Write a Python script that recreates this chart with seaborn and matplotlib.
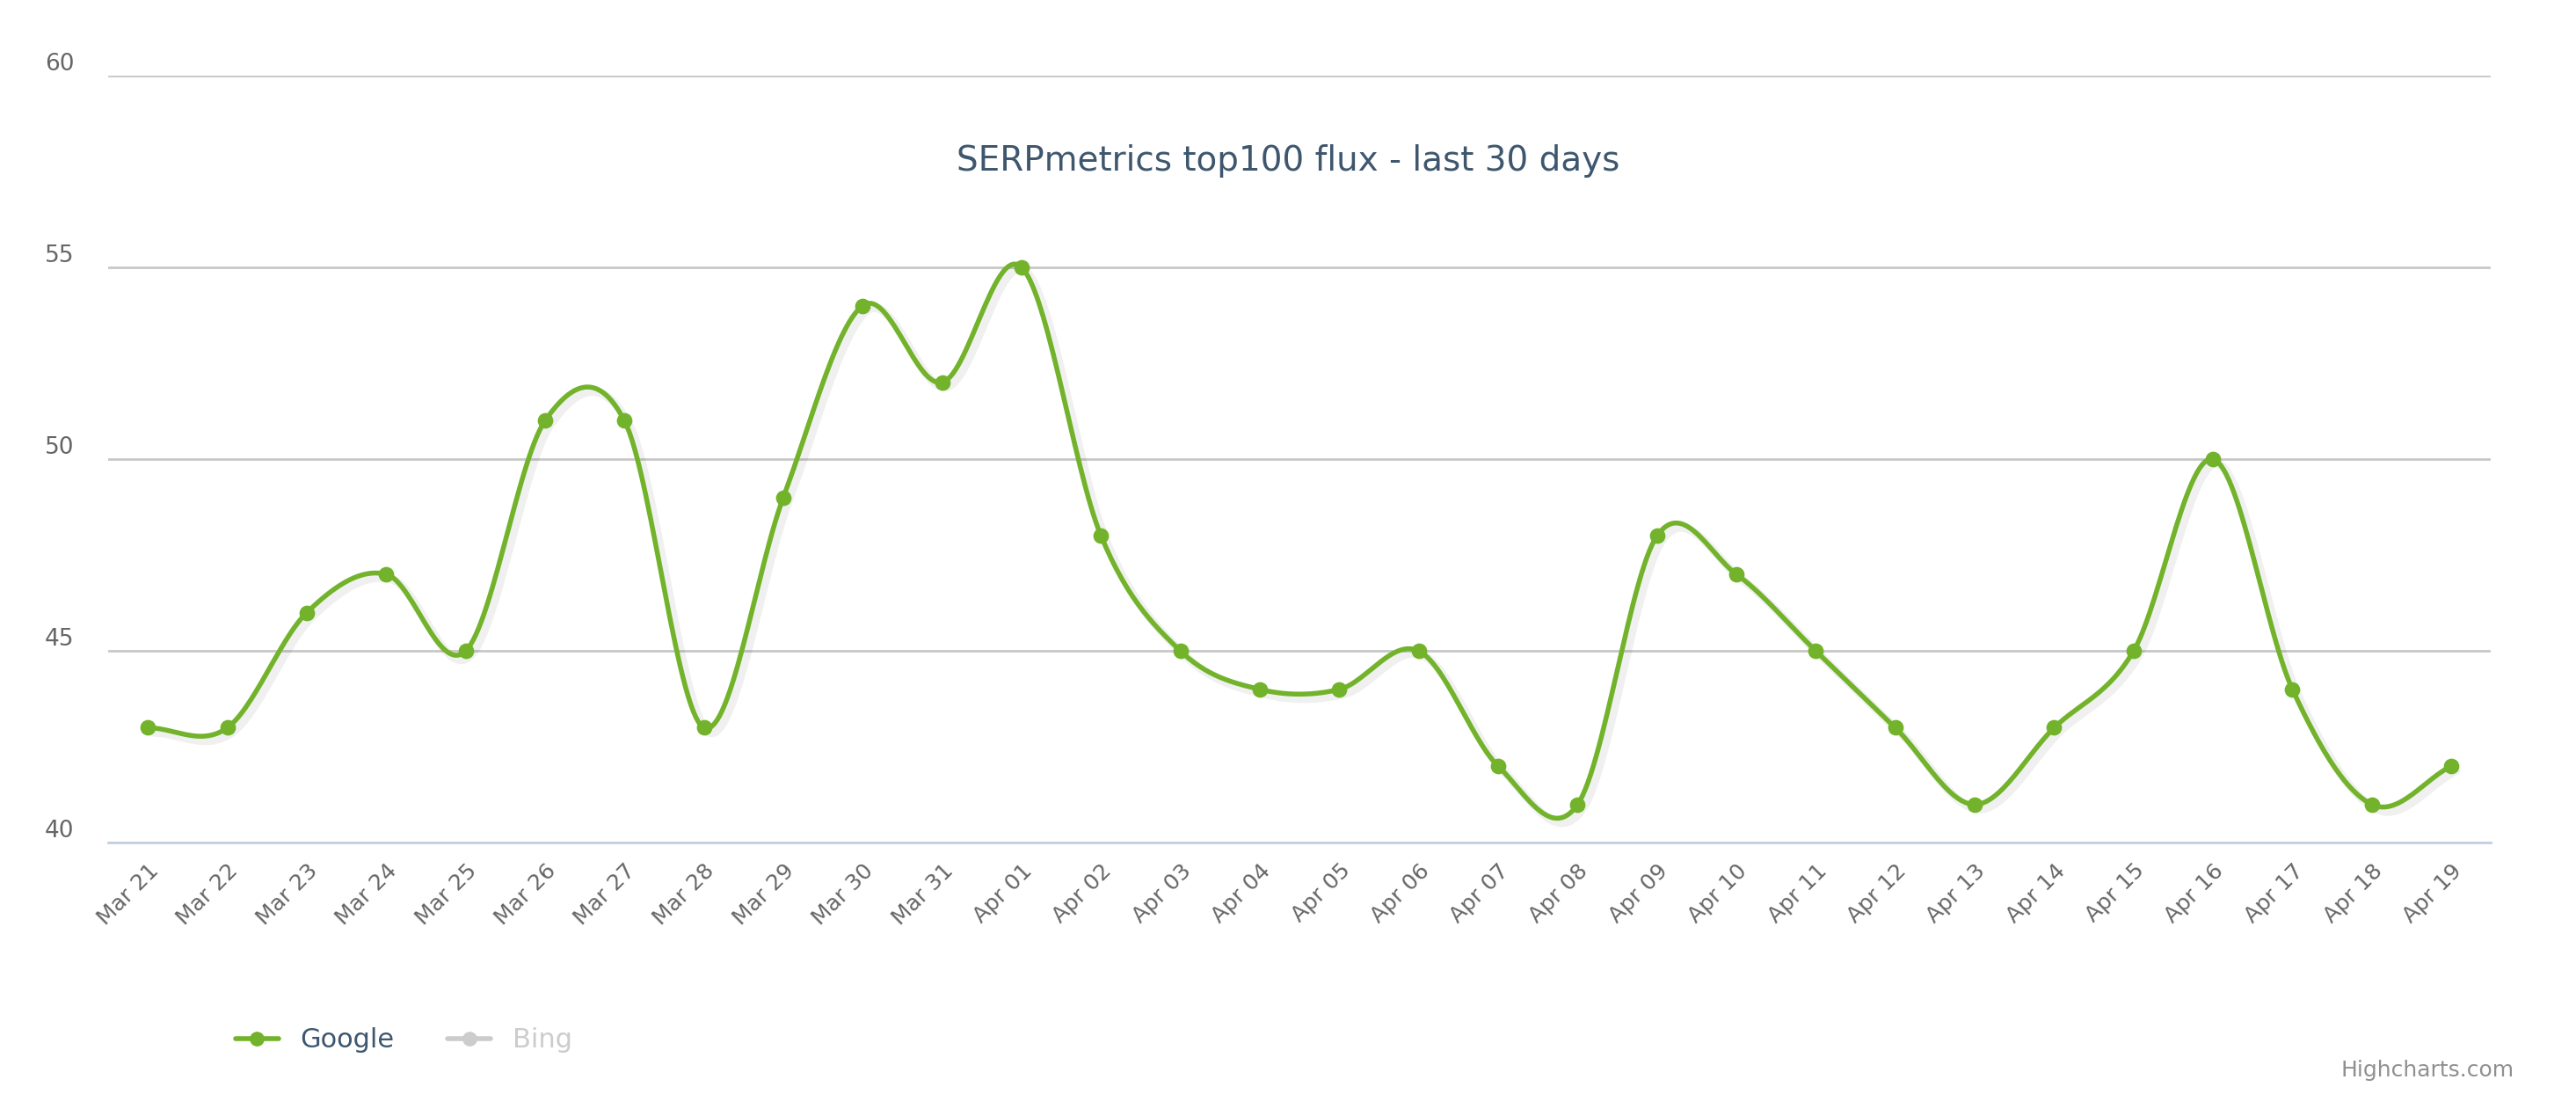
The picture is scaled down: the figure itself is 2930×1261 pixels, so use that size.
import numpy as np
import matplotlib
matplotlib.use("Agg")
import matplotlib.pyplot as plt
import seaborn as sns
from matplotlib.lines import Line2D
from matplotlib.transforms import ScaledTranslation

days = ['Mar 21', 'Mar 22', 'Mar 23', 'Mar 24', 'Mar 25', 'Mar 26', 'Mar 27', 'Mar 28',
        'Mar 29', 'Mar 30', 'Mar 31', 'Apr 01', 'Apr 02', 'Apr 03', 'Apr 04', 'Apr 05',
        'Apr 06', 'Apr 07', 'Apr 08', 'Apr 09', 'Apr 10', 'Apr 11', 'Apr 12', 'Apr 13',
        'Apr 14', 'Apr 15', 'Apr 16', 'Apr 17', 'Apr 18', 'Apr 19']
google = [43, 43, 46, 47, 45, 51, 51, 43, 49, 54, 52, 55, 48, 45, 44, 44,
          45, 42, 41, 48, 47, 45, 43, 41, 43, 45, 50, 44, 41, 42]

green = '#72b32b'
text_col = '#666666'


def spline(xs, ys, n=30, t=0.5):
    # Catmull-Rom smoothing of the line, like highcharts "spline"
    xs = np.asarray(xs, float)
    ys = np.asarray(ys, float)
    px = np.concatenate([[xs[0]], xs, [xs[-1]]])
    py = np.concatenate([[ys[0]], ys, [ys[-1]]])
    ox, oy = [], []
    for i in range(1, len(px) - 2):
        m0 = t * (py[i + 1] - py[i - 1]) / max(px[i + 1] - px[i - 1], 1e-9) * (px[i + 1] - px[i])
        m1 = t * (py[i + 2] - py[i]) / max(px[i + 2] - px[i], 1e-9) * (px[i + 1] - px[i])
        s = np.linspace(0, 1, n, endpoint=False)
        h00 = 2 * s**3 - 3 * s**2 + 1
        h10 = s**3 - 2 * s**2 + s
        h01 = -2 * s**3 + 3 * s**2
        h11 = s**3 - s**2
        ox.extend(px[i] + s * (px[i + 1] - px[i]))
        oy.extend(h00 * py[i] + h10 * 2 * m0 + h01 * py[i + 1] + h11 * 2 * m1)
    ox.append(xs[-1])
    oy.append(ys[-1])
    return np.array(ox), np.array(oy)


sns.set_style('white')
plt.rcParams['font.family'] = ['DejaVu Sans']

fig = plt.figure(figsize=(29.3, 12.61), dpi=100)
ax = fig.add_axes([0.042, 0.24, 0.925, 0.692])

x = np.arange(len(days))
sx, sy = spline(x, google)
ax.plot(sx + 0.06, sy - 0.12, color='#000000', alpha=0.06, lw=7, zorder=2)
ax.plot(sx, sy, color=green, lw=4, zorder=3)
sns.scatterplot(x=x, y=google, ax=ax, color=green, s=140, edgecolor=green, zorder=4, legend=False)

ax.set_xlim(-0.5, len(days) - 0.5)
ax.set_ylim(40, 60)
ax.set_yticks([40, 45, 50, 55, 60])
ax.yaxis.grid(True, color='#c8c8c8', lw=2)
ax.set_axisbelow(True)
for s in ['top', 'right', 'left']:
    ax.spines[s].set_visible(False)
ax.spines['bottom'].set_color('#c0d0e0')
ax.spines['bottom'].set_linewidth(2)

ax.set_xticks(x)
ax.set_xticklabels(days, rotation=45, ha='right', rotation_mode='anchor', color=text_col, fontsize=18)
shift = ScaledTranslation(-0.15, 0, fig.dpi_scale_trans)
for lab in ax.get_xticklabels():
    lab.set_transform(lab.get_transform() + shift)
ax.set_xticks(np.arange(-0.5, len(days)), minor=True)
ax.tick_params(axis='x', which='major', length=0, pad=14)
ax.tick_params(axis='x', which='minor', length=14, width=2, color='#c0d0e0')
ax.tick_params(axis='y', length=0, labelsize=19, labelcolor=text_col, pad=28)
for lab in ax.get_yticklabels():
    lab.set_verticalalignment('bottom')

fig.text(0.5, 0.855, 'SERPmetrics top100 flux - last 30 days', ha='center', va='center',
         fontsize=28, color='#3e576f')

handles = [Line2D([], [], color=green, lw=4, marker='o', ms=11),
           Line2D([], [], color='#cccccc', lw=4, marker='o', ms=11)]
leg = fig.legend(handles, ['Google', 'Bing'], loc='center left', bbox_to_anchor=(0.082, 0.062),
                 ncol=2, frameon=False, fontsize=22, handlelength=1.6, columnspacing=2.0)
leg.get_texts()[0].set_color('#3e576f')
leg.get_texts()[1].set_color('#cccccc')

fig.text(0.976, 0.035, 'Highcharts.com', ha='right', va='center', fontsize=18, color='#909090')

fig.savefig('out.png', dpi=100)
